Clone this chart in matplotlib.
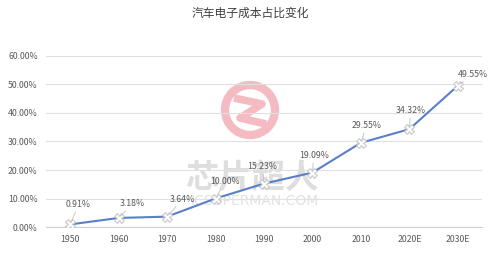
import matplotlib

matplotlib.use("Agg")

import matplotlib.pyplot as plt
from matplotlib.patches import Circle

plt.rcParams["font.family"] = ["Noto Sans CJK SC", "DejaVu Sans"]

years = ["1950", "1960", "1970", "1980", "1990", "2000", "2010", "2020E", "2030E"]
share = [0.0091, 0.0318, 0.0364, 0.1000, 0.1523, 0.1909, 0.2955, 0.3432, 0.4955]
# label offsets in points (dx, dy) for each data label
label_offsets = [(6, 11), (10, 7), (11, 9), (7, 9), (-1, 9), (1, 9), (4, 9), (1, 10), (11, 5)]

title = "汽车电子成本占比变化"
grey = "#595959"
line_color = "#5A7FCA"


def main() -> None:
    fig = plt.figure(figsize=(5.0, 2.66), dpi=100)
    ax = fig.add_axes([0.092, 0.1466, 0.872, 0.6429])

    # watermark
    wm = fig.add_axes([0, 0, 1, 1], zorder=0)
    wm.set_xlim(0, 500)
    wm.set_ylim(266, 0)
    wm.axis("off")
    wm.add_patch(Circle((250, 110), 25, fill=False, ec="#F4BCC2", lw=6))
    wm.plot([234, 262, 240, 266], [98, 104, 118, 124], color="#F4BCC2", lw=5.5,
            solid_capstyle="butt")
    wm.text(252, 178, "芯片超人", fontsize=24, color="#DEDEDE", ha="center",
            va="center", fontweight="bold")
    wm.text(255, 201, "ICSUPERMAN.COM", fontsize=10, color="#E2E2E2", ha="center",
            va="center", family="DejaVu Sans")
    ax.set_zorder(1)
    ax.patch.set_alpha(0)

    x = range(len(years))
    ax.plot(x, share, color=line_color, lw=1.5, marker="X", markersize=7,
            markerfacecolor="white", markeredgecolor="#C8C8C8", markeredgewidth=0.8,
            zorder=3)

    for xi, val, (dx, dy) in zip(x, share, label_offsets):
        ax.annotate(f"{val * 100:.2f}%", xy=(xi, val), xytext=(dx, dy),
                    textcoords="offset points", ha="center", va="bottom",
                    fontsize=6.3, color=grey,
                    arrowprops=dict(arrowstyle="-", color="#BFBFBF", lw=0.6,
                                    shrinkA=0, shrinkB=2))

    ax.set_xlim(-0.5, len(years) - 0.5)
    ax.set_ylim(0, 0.6)
    ax.set_yticks([i / 10 for i in range(7)])
    ax.set_yticklabels([f"{i * 10:.2f}%" for i in range(7)])
    ax.set_xticks(list(x))
    ax.set_xticklabels(years)
    ax.tick_params(length=0, labelsize=6.3, labelcolor=grey, pad=6)
    ax.grid(axis="y", color="#E0E0E0", lw=0.8)
    ax.set_axisbelow(True)
    for side in ["top", "right", "left"]:
        ax.spines[side].set_visible(False)
    ax.spines["bottom"].set_color("#D0D0D0")

    fig.text(0.5, 0.95, title, ha="center", va="center", fontsize=8.5, color="#404040")

    fig.savefig("out.png", dpi=100)
    plt.close(fig)


if __name__ == "__main__":
    main()
